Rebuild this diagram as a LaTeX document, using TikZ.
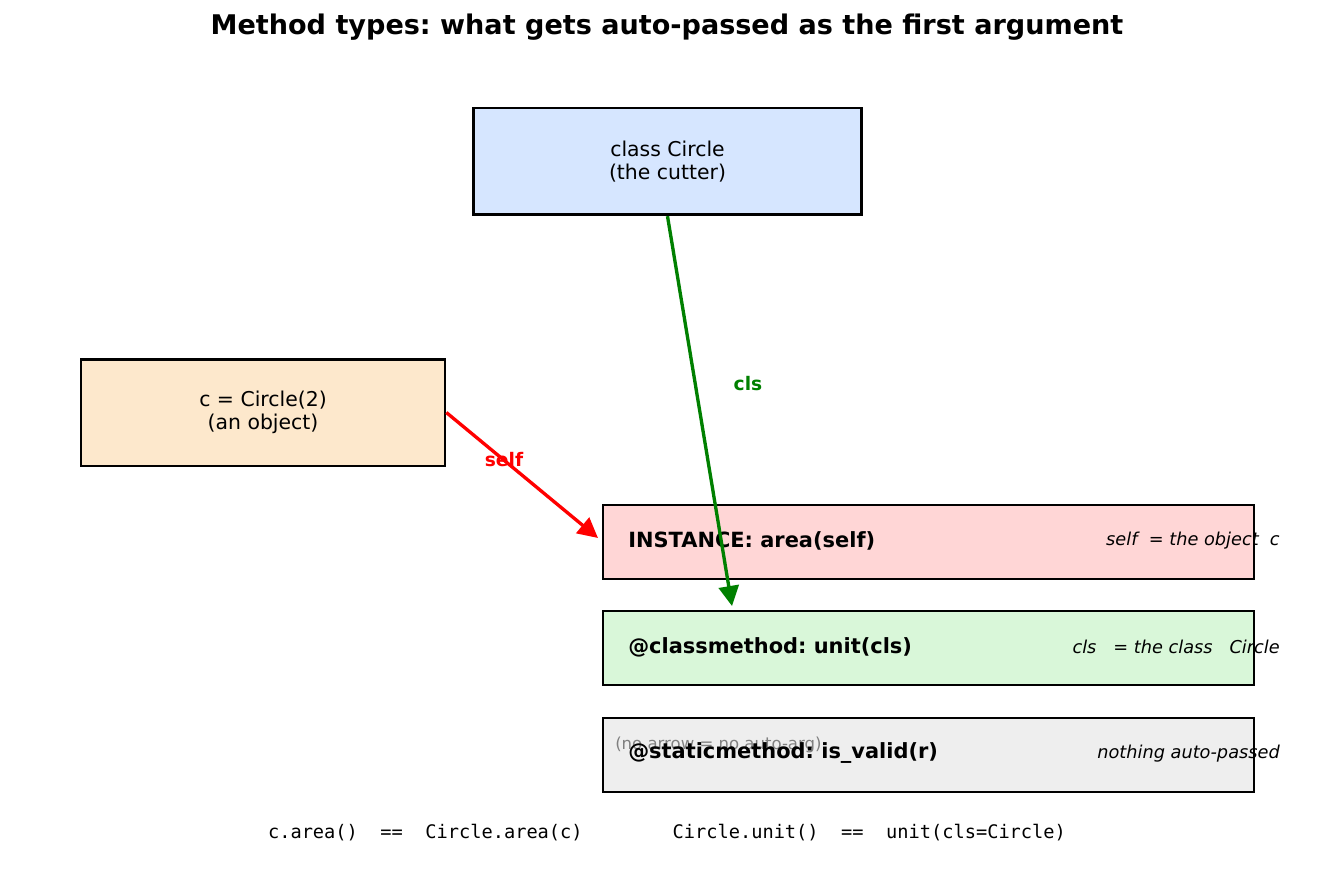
\documentclass[tikz,border=0pt]{standalone}
\usepackage{fontspec}
\setmainfont{DejaVu Sans}
\setmonofont{DejaVu Sans Mono}
\usetikzlibrary{arrows.meta}
\frenchspacing
\definecolor{bxblue}{HTML}{D6E6FF}
\definecolor{bxorange}{HTML}{FDE8CC}
\definecolor{bxred}{HTML}{FFD6D6}
\definecolor{bxgreen}{HTML}{D9F7D9}
\definecolor{bxgray}{HTML}{EEEEEE}
\definecolor{arrgreen}{HTML}{008000}
\definecolor{arrred}{HTML}{FF0000}
\tikzset{
  bigbox/.style={draw=black, line width=2pt, minimum height=80pt, align=center, font=\fontsize{15.3}{17}\selectfont, inner sep=0pt},
  methbox/.style={draw=black, line width=1.6pt, minimum width=488pt, minimum height=56pt, inner sep=0pt},
  methlabel/.style={anchor=west, inner sep=0pt, font=\fontsize{15.7}{18}\selectfont\bfseries},
  notelabel/.style={anchor=east, inner sep=0pt, font=\fontsize{13.3}{16}\selectfont\itshape},
  arrowlabel/.style={font=\fontsize{14}{16}\selectfont\bfseries},
  conn/.style={line width=2.5pt, -{Triangle[length=15pt, width=15pt]}}
}
\begin{document}
\begin{tikzpicture}[x=0.75pt,y=-0.75pt]
\useasboundingbox (0,0) rectangle (1335,884);
\node[font=\fontsize{20.3}{24}\selectfont\bfseries] (title) at (667,27) {Method types: what gets auto-passed as the first argument};

\node[bigbox, fill=bxblue, minimum width=291pt] (cls) at (667.5,161.5) {class Circle\\(the cutter)};
\node[bigbox, fill=bxorange, minimum width=273pt] (obj) at (263,412.5) {c = Circle(2)\\(an object)};

\node[methbox, fill=bxred] (inst) at (928.5,542) {};
\node[methbox, fill=bxgreen] (clsm) at (928.5,648) {};
\node[methbox, fill=bxgray] (stat) at (928.5,755) {};

\node[methlabel] (instt) at (628,541) {INSTANCE: area(self)};
\node[methlabel] (clsmt) at (628,647) {@classmethod: unit(cls)};
\node[anchor=west, inner sep=0pt, text=gray, font=\fontsize{12.4}{15}\selectfont] (noarrow) at (615,745) {(no arrow = no auto-arg)};
\node[methlabel] (statt) at (628,753) {@staticmethod: is\_valid(r)};

\node[notelabel] (instn) at (1280,541) {self\ \ = the object\ \ c};
\node[notelabel] (clsmn) at (1280,647) {cls\ \ \ = the class\ \ \ Circle};
\node[notelabel] (statn) at (1280,754) {nothing auto-passed};

\node[arrowlabel, text=arrred] (selfl) at (504,460) {self};
\node[arrowlabel, text=arrgreen] (clsl) at (748,384) {cls};

\coordinate (selftip) at (598,538);
\coordinate (clstip) at (732,606);
\draw[conn, draw=arrred, fill=arrred] (obj.east) -- (selftip);
\draw[conn, draw=arrgreen, fill=arrgreen] (cls.south) -- (clstip);

\node[font=\fontsize{14}{16}\selectfont\ttfamily] (code) at (667,833) {c.area()\ \ ==\ \ Circle.area(c)\ \ \ \ \ \ \ \ Circle.unit()\ \ ==\ \ unit(cls=Circle)};
\end{tikzpicture}
\end{document}
